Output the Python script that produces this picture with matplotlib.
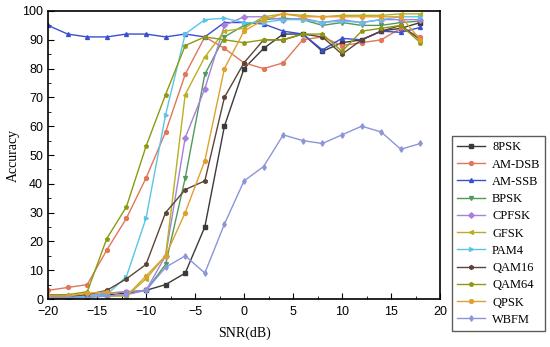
import numpy as np
import matplotlib.pyplot as plt
from matplotlib.ticker import MultipleLocator

# SNR points
snr = list(range(-20, 20, 2))

# accuracy per modulation
psk8 = [0.5, 0.5, 1, 1.5, 2, 3, 5, 9, 25, 60, 80, 87, 92, 92, 86, 89, 90, 93, 94, 96]
am_dsb = [3, 4, 5, 17, 28, 42, 58, 78, 91, 87, 82, 80, 82, 90, 91, 88, 89, 90, 94, 91]
am_ssb = [95, 92, 91, 91, 92, 92, 91, 92, 91, 96, 96, 95.5, 93, 92, 86.5, 90.5, 90, 93, 92.6, 94.3]
bpsk = [0.5, 0.5, 1, 2, 2.5, 3, 12, 42, 78, 91, 95, 97, 97.5, 97, 95, 96, 95, 95, 96, 96.5]
cpfsk = [0.5, 0.5, 1, 2, 2.5, 3, 15, 56, 73, 95, 98, 98, 97, 97.5, 96, 97, 96, 97, 97, 97]
gfsk = [0.5, 0.5, 1, 1, 1, 7, 15, 71, 84, 93, 94, 98, 99, 98.5, 98, 98.5, 98.5, 98.5, 99, 99]
pam4 = [0.5, 0.5, 1, 1.5, 7.8, 28, 64, 92, 97, 97.5, 96, 96, 97, 97, 96, 96.5, 96, 97, 98, 98]
qam16 = [1, 1, 1.5, 3, 7, 12, 30, 38, 41, 70, 82, 90, 90, 92, 91, 85, 90, 93, 95, 90]
qam64 = [1.5, 1.5, 2.5, 21, 32, 53, 71, 88, 91, 90, 89, 90, 90, 92, 92, 86, 93, 94, 95, 89]
qpsk = [1, 1, 2, 2.5, 1, 8, 15, 30, 48, 80, 93, 97, 99, 98, 98, 98, 98, 98, 98, 90]
wbfm = [0.5, 0.5, 0.5, 1, 1.5, 3, 11, 15, 9, 26, 41, 46, 57, 55, 54, 57, 60, 58, 52, 54]

labels = ['8PSK', 'AM-DSB', 'AM-SSB', 'BPSK', 'CPFSK', 'GFSK',
          'PAM4', 'QAM16', 'QAM64', 'QPSK', 'WBFM']
series = [psk8, am_dsb, am_ssb, bpsk, cpfsk, gfsk, pam4, qam16, qam64, qpsk, wbfm]
colors = ['#3a3a3a', '#e0765a', '#3a4fd0', '#4f9a5a', '#a77fe0', '#b8b020',
          '#5cc4e6', '#5e4438', '#8d9a10', '#e0a030', '#8a96d8']
markers = ['s', 'o', '^', 'v', 'D', '<', '>', 'h', 'p', 'o', 'd']

fig = plt.figure(figsize=(5.5, 3.47), dpi=100)
ax = fig.add_axes([0.0873, 0.1383, 0.7127, 0.830])

for y, lab, c, m in zip(series, labels, colors, markers):
    ax.plot(snr, y, color=c, marker=m, markersize=2.8, linewidth=1.0, label=lab)

ax.set_xlim(-20, 20)
ax.set_ylim(0, 100)
ax.xaxis.set_major_locator(MultipleLocator(5))
ax.xaxis.set_minor_locator(MultipleLocator(2.5))
ax.yaxis.set_major_locator(MultipleLocator(10))
ax.yaxis.set_minor_locator(MultipleLocator(5))
ax.tick_params(which='both', direction='in', labelsize=9)
ax.tick_params(which='major', length=4)
ax.tick_params(which='minor', length=2)
ax.tick_params(axis='x', pad=5)
for t in ax.get_xticklabels() + ax.get_yticklabels():
    t.set_fontfamily('Liberation Sans')
for s in ax.spines.values():
    s.set_linewidth(1.2)

ax.set_xlabel('SNR(dB)', fontfamily='Liberation Serif', fontsize=10, labelpad=6)
ax.set_ylabel('Accuracy', fontfamily='Liberation Serif', fontsize=10, labelpad=2)

leg = fig.legend(loc='upper left', bbox_to_anchor=(0.822, 0.607),
                 prop={'family': 'Liberation Serif', 'size': 9},
                 frameon=True, fancybox=False, edgecolor='#333333',
                 handlelength=2.2, labelspacing=0.42, borderpad=0.4,
                 handletextpad=0.6, borderaxespad=0)
leg.get_frame().set_linewidth(1.0)

plt.savefig('out.png', dpi=100)
